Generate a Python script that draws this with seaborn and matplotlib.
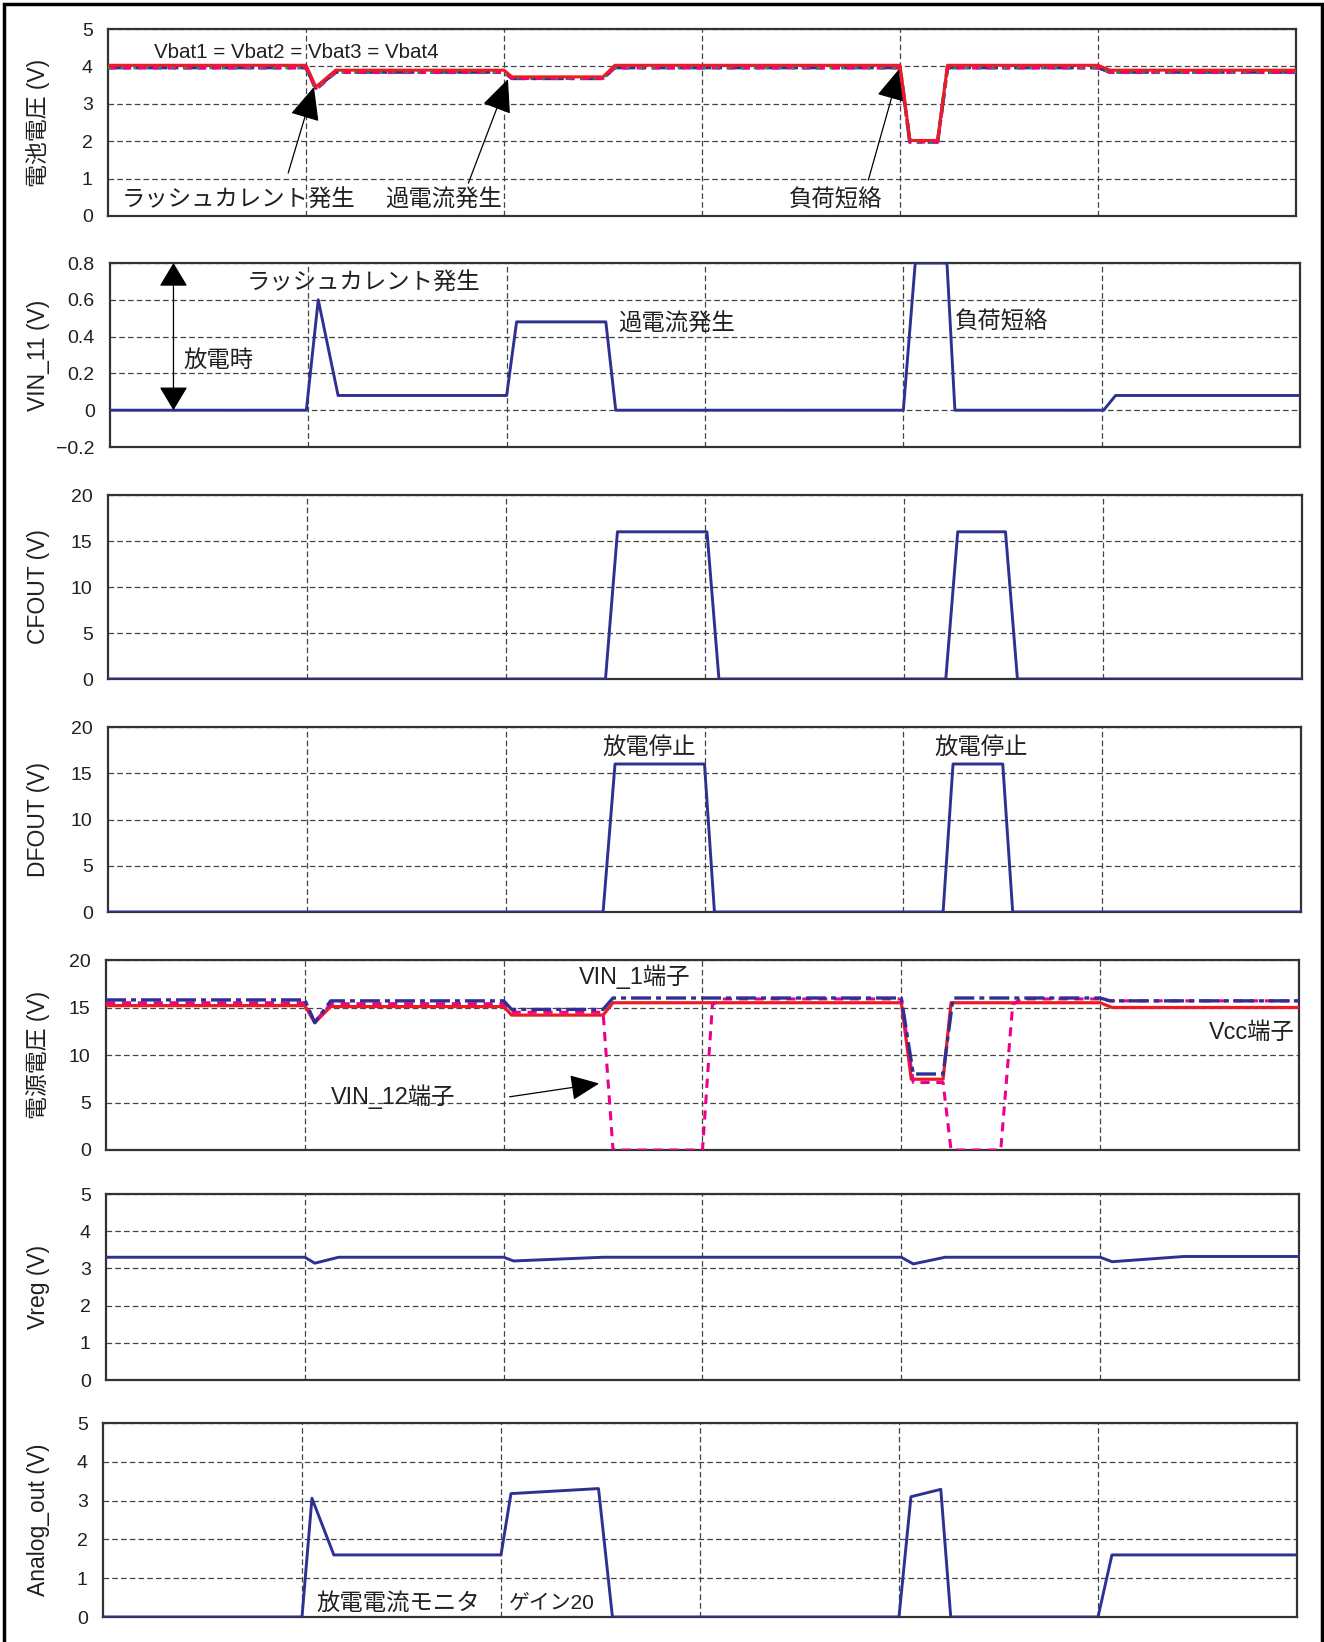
import matplotlib
matplotlib.use("Agg")
import matplotlib.pyplot as plt
from matplotlib.patches import Rectangle
import seaborn as sns

# ---- data (x axis in time divisions, 0..6) ----
t_bat = [0, 1.0, 1.05, 1.15, 2.0, 2.04, 2.5, 2.56, 4.0, 4.05, 4.19, 4.24, 5.0, 5.06, 6.0]
vbat_red = [4.03, 4.03, 3.45, 3.9, 3.9, 3.72, 3.72, 4.03, 4.03, 2.02, 2.02, 4.03, 4.03, 3.9, 3.9]
vbat_blue = [3.97, 3.97, 3.42, 3.85, 3.85, 3.68, 3.68, 3.97, 3.97, 1.98, 1.98, 3.97, 3.97, 3.85, 3.85]
vbat_magenta = [3.96, 3.96, 3.38, 3.84, 3.84, 3.68, 3.68, 3.96, 3.96, 1.98, 1.98, 3.96, 3.96, 3.84, 3.84]
vbat_green = [3.97, 3.97, 3.4, 3.85, 3.85, 3.69, 3.69, 3.97, 3.97, 1.99, 1.99, 3.97, 3.97, 3.85, 3.85]

t_vin11 = [0, 0.99, 1.05, 1.15, 2.0, 2.05, 2.5, 2.55, 4.0, 4.06, 4.22, 4.26, 5.01, 5.07, 6.0]
vin11 = [0, 0, 0.6, 0.08, 0.08, 0.48, 0.48, 0, 0, 0.8, 0.8, 0, 0, 0.08, 0.08]

t_cfout = [0, 2.5, 2.56, 3.01, 3.07, 4.21, 4.27, 4.51, 4.57, 6.0]
cfout = [0, 0, 16, 16, 0, 0, 16, 16, 0, 0]

t_dfout = [0, 2.49, 2.55, 3.0, 3.05, 4.2, 4.25, 4.5, 4.55, 6.0]
dfout = [0, 0, 16, 16, 0, 0, 16, 16, 0, 0]

t_vin1 = [0, 1.0, 1.05, 1.13, 2.0, 2.04, 2.5, 2.55, 4.0, 4.06, 4.21, 4.26, 5.0, 5.05, 6.0]
vin1 = [15.8, 15.8, 13.4, 15.7, 15.7, 14.8, 14.8, 16.0, 16.0, 8.0, 8.0, 16.0, 16.0, 15.7, 15.7]
t_vcc = [0, 1.0, 1.05, 1.13, 2.0, 2.04, 2.5, 2.55, 4.0, 4.05, 4.21, 4.25, 5.0, 5.06, 6.0]
vcc = [15.2, 15.2, 13.4, 15.1, 15.1, 14.2, 14.2, 15.5, 15.5, 7.45, 7.45, 15.5, 15.5, 15.0, 15.0]
t_vin12 = [0, 1.0, 1.05, 1.13, 2.0, 2.04, 2.5, 2.55, 3.0, 3.05, 3.1, 4.0, 4.06, 4.21, 4.25,
           4.5, 4.56, 4.6, 5.0, 5.05, 6.0]
vin12 = [15.5, 15.5, 13.5, 15.4, 15.4, 14.5, 14.5, 0, 0, 15.3, 15.9, 15.9, 7.1, 7.1, 0,
         0, 15.3, 15.9, 15.9, 15.7, 15.7]

t_vreg = [0, 1.0, 1.05, 1.17, 2.0, 2.05, 2.5, 4.0, 4.06, 4.22, 5.0, 5.06, 5.42, 6.0]
vreg = [3.3, 3.3, 3.14, 3.3, 3.3, 3.2, 3.3, 3.3, 3.12, 3.3, 3.3, 3.18, 3.32, 3.32]

t_aout = [0, 1.0, 1.05, 1.16, 2.0, 2.05, 2.49, 2.56, 4.0, 4.06, 4.21, 4.26, 5.0, 5.07, 6.0]
aout = [0, 0, 3.06, 1.6, 1.6, 3.18, 3.31, 0, 0, 3.1, 3.29, 0, 0, 1.6, 1.6]

ylabels = ["電池電圧 (V)", "VIN_11 (V)", "CFOUT (V)", "DFOUT (V)", "電源電圧 (V)", "Vreg (V)", "Analog_out (V)"]
yticks = [[0, 1, 2, 3, 4, 5], [-0.2, 0, 0.2, 0.4, 0.6, 0.8], [0, 5, 10, 15, 20],
          [0, 5, 10, 15, 20], [0, 5, 10, 15, 20], [0, 1, 2, 3, 4, 5], [0, 1, 2, 3, 4, 5]]
yticklabels = [["0", "1", "2", "3", "4", "5"], ["\u22120.2", "0", "0.2", "0.4", "0.6", "0.8"],
               ["0", "5", "10", "15", "20"], ["0", "5", "10", "15", "20"], ["0", "5", "10", "15", "20"],
               ["0", "1", "2", "3", "4", "5"], ["0", "1", "2", "3", "4", "5"]]

# ---- style ----
sns.set_style("white")
plt.rcParams["font.family"] = ["Liberation Sans", "Noto Sans CJK JP"]
plt.rcParams["text.color"] = "#231f20"

BLUE = "#2e3192"
RED = "#ed1c24"
MAGENTA = "#ec008c"
GREEN = "#00a651"
TXT = 16.8

W, H = 1324, 1642
fig = plt.figure(figsize=(W / 100, H / 100), dpi=100)

# panel boxes in pixels: left, top, right, bottom
boxes = [(108, 29, 1296, 216), (110, 263, 1300, 447), (108, 495, 1302, 679),
         (108, 727, 1301, 912), (106, 960, 1299, 1150), (106, 1194, 1299, 1380),
         (103, 1423, 1297, 1617)]

axes = []
for i, (l, t, r, b) in enumerate(boxes):
    ax = fig.add_axes([l / W, 1 - b / H, (r - l) / W, (b - t) / H])
    ax.set_xlim(0, 6)
    ax.set_ylim(yticks[i][0], yticks[i][-1])
    ax.set_xticks([1, 2, 3, 4, 5])
    ax.set_xticklabels([])
    ax.set_yticks(yticks[i])
    ax.set_yticklabels(yticklabels[i])
    ax.tick_params(axis="both", length=0, labelsize=14, pad=11, labelcolor="#231f20")
    ax.grid(True, color="#444444", lw=0.9, linestyle=(0, (4.5, 2.5)))
    for sp in ax.spines.values():
        sp.set_color("#333333")
        sp.set_linewidth(1.6)
    ax.set_ylabel(ylabels[i], fontsize=16.5, color="#231f20")
    ax.yaxis.set_label_coords((50 - l) / (r - l), 0.5)
    axes.append(ax)


def line(ax, x, y, color, lw=2.1, ls="-", z=3):
    sns.lineplot(x=x, y=y, ax=ax, color=color, lw=lw, linestyle=ls,
                 estimator=None, sort=False, zorder=z)


def arrow(ax, tip, tail, style="-|>,head_length=1.05,head_width=0.47"):
    ax.annotate("", xy=tip, xytext=tail,
                arrowprops=dict(arrowstyle=style, mutation_scale=20, lw=0.9,
                                color="black", shrinkA=0, shrinkB=0))


# panel 1: battery voltages
ax = axes[0]
line(ax, t_bat, vbat_blue, BLUE, lw=2.6, ls=(0, (6, 1.5, 1.5, 1.5)), z=3)
line(ax, t_bat, vbat_magenta, MAGENTA, lw=2.4, ls=(0, (2.5, 2)), z=4)
line(ax, t_bat, vbat_green, GREEN, lw=2.4, ls=(0, (0.8, 3)), z=5)
line(ax, t_bat, vbat_red, RED, lw=2.2, z=6)
ax.text(0.23, 4.36, "Vbat1 = Vbat2 = Vbat3 = Vbat4", fontsize=14.8, va="center")
ax.text(0.07, 0.43, "ラッシュカレント発生", fontsize=TXT, va="center")
ax.text(1.4, 0.43, "過電流発生", fontsize=TXT, va="center")
ax.text(3.44, 0.43, "負荷短絡", fontsize=TXT, va="center")
arrow(ax, (1.04, 3.45), (0.91, 1.15))
arrow(ax, (2.02, 3.66), (1.82, 0.88))
arrow(ax, (4.0, 3.96), (3.84, 0.96))

# panel 2: VIN_11
ax = axes[1]
line(ax, t_vin11, vin11, BLUE)
arrow(ax, (0.32, 0.8), (0.32, 0.0), style="<|-|>,head_length=0.75,head_width=0.45")
ax.text(0.37, 0.27, "放電時", fontsize=TXT, va="center")
ax.text(0.69, 0.69, "ラッシュカレント発生", fontsize=TXT, va="center")
ax.text(2.56, 0.47, "過電流発生", fontsize=TXT, va="center")
ax.text(4.26, 0.48, "負荷短絡", fontsize=TXT, va="center")

# panel 3: CFOUT
line(axes[2], t_cfout, cfout, BLUE)

# panel 4: DFOUT
ax = axes[3]
line(ax, t_dfout, dfout, BLUE)
ax.text(2.72, 17.8, "放電停止", fontsize=TXT, ha="center", va="center")
ax.text(4.39, 17.8, "放電停止", fontsize=TXT, ha="center", va="center")

# panel 5: supply voltages
ax = axes[4]
line(ax, t_vcc, vcc, RED, lw=2.3, z=3)
line(ax, t_vin12, vin12, MAGENTA, lw=2.2, ls=(0, (3, 2.2)), z=4)
line(ax, t_vin1, vin1, BLUE, lw=2.4, ls=(0, (6, 1.5, 1.5, 1.5)), z=5)
ax.text(2.66, 18.2, "VIN_1端子", fontsize=TXT, ha="center", va="center")
ax.text(5.98, 12.4, "Vcc端子", fontsize=TXT, ha="right", va="center")
ax.text(1.13, 5.6, "VIN_12端子", fontsize=TXT, va="center")
arrow(ax, (2.48, 7.0), (2.03, 5.6), style="-|>,head_length=0.9,head_width=0.4")

# panel 6: Vreg
line(axes[5], t_vreg, vreg, BLUE)

# panel 7: Analog_out
ax = axes[6]
line(ax, t_aout, aout, BLUE)
ax.text(1.07, 0.36, "放電電流モニタ", fontsize=TXT, va="center")
ax.text(2.04, 0.36, "ゲイン20", fontsize=15, va="center")

# outer frame
fig.add_artist(Rectangle((0.003, -0.01), 0.9955, 1.0075, transform=fig.transFigure,
                         fill=False, lw=2.5, edgecolor="black"))

fig.savefig("out.png", dpi=100)
